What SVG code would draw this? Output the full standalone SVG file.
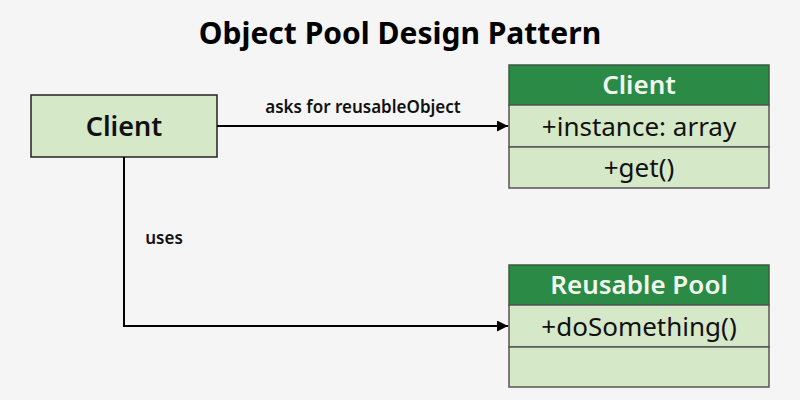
<svg xmlns="http://www.w3.org/2000/svg" width="800" height="400" viewBox="0 0 800 400">
<defs>
<style>
text{font-family:"Noto Sans","Open Sans",sans-serif;text-anchor:middle}
.t{font-size:30px;font-weight:bold;fill:#000}
.box{fill:#d5e8c8;stroke:#222;stroke-width:1.5}
.hdr{fill:#2b8a45;stroke:#3a5a40;stroke-width:1.5}
.row{fill:#d5e8c8;stroke:#555;stroke-width:1.5}
.ht{font-size:26px;font-weight:600;fill:#f0f8ee}
.rt{font-size:26px;fill:#111}
.lbl{font-size:17px;fill:#111;font-weight:600}
.ln{fill:none;stroke:#000;stroke-width:2}
</style>
<marker id="arr" viewBox="0 0 10 10" refX="10" refY="5" markerWidth="11" markerHeight="11" markerUnits="userSpaceOnUse" orient="auto">
<path d="M0,0 L10,5 L0,10 z" fill="#000"/>
</marker>
</defs>
<rect width="800" height="400" fill="#f5f5f5"/>
<text class="t" x="400" y="44">Object Pool Design Pattern</text>
<g id="client">
<rect class="box" x="31" y="95" width="186" height="62"/>
<text x="124" y="136" style="font-size:27px;font-weight:600" fill="#111">Client</text>
</g>
<g id="client-class">
<rect class="hdr" x="509" y="65" width="260" height="40"/>
<rect class="row" x="509" y="105" width="260" height="42"/>
<rect class="row" x="509" y="147" width="260" height="41"/>
<text class="ht" x="639" y="94">Client</text>
<text class="rt" x="639" y="136">+instance: array</text>
<text class="rt" x="639" y="177">+get()</text>
</g>
<g id="reusable-pool">
<rect class="hdr" x="509" y="265" width="260" height="40"/>
<rect class="row" x="509" y="305" width="260" height="42"/>
<rect class="row" x="509" y="347" width="260" height="40"/>
<text class="ht" x="639" y="294">Reusable Pool</text>
<text class="rt" x="639" y="336">+doSomething()</text>
</g>
<g id="connectors">
<path class="ln" d="M217,126 H508" marker-end="url(#arr)"/>
<path class="ln" d="M124,157 V326 H508" marker-end="url(#arr)"/>
<text class="lbl" x="363" y="113">asks for reusableObject</text>
<text class="lbl" x="164" y="244">uses</text>
</g>
</svg>
